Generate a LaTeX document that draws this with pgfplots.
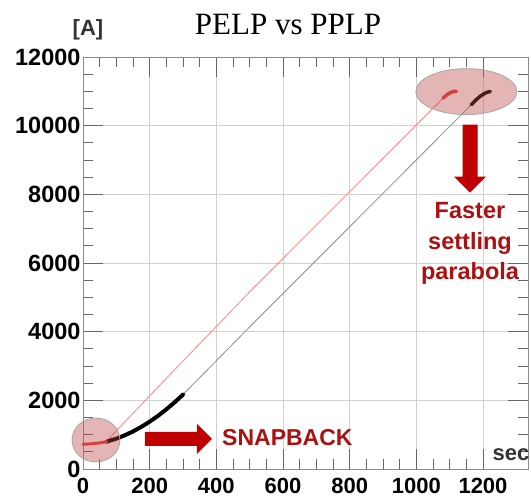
\documentclass[border=0pt]{standalone}
\usepackage{fontspec}
\setmainfont{Liberation Sans}
\newfontfamily\titlefont{Liberation Serif}
\usepackage{pgfplots}
\pgfplotsset{compat=1.18}
\definecolor{arrowred}{RGB}{192,0,0}
\definecolor{textred}{RGB}{172,16,16}
\definecolor{lightred}{RGB}{255,130,130}
\definecolor{thickred}{RGB}{235,60,60}
\definecolor{ellfill}{RGB}{185,70,70}
\definecolor{lgray}{RGB}{140,140,140}

\begin{document}
\begin{tikzpicture}[x=1pt,y=1pt]
\path[use as bounding box] (0,0) rectangle (531,500);
\begin{axis}[
  at={(83pt,31pt)}, anchor=south west,
  scale only axis, width=445pt, height=412pt,
  xmin=0, xmax=1335, ymin=0, ymax=12000,
  xtick={0,200,...,1200}, ytick={0,2000,...,12000},
  minor x tick num=3, minor y tick num=3,
  tick align=inside,
  major tick length=20pt, minor tick length=10pt,
  grid=major,
  major grid style={black!18, line width=0.6pt},
  axis line style={black!45, line width=0.8pt},
  every tick/.style={black!60, line width=0.8pt},
  xticklabel style={font=\fontsize{22}{24}\selectfont\bfseries, yshift=-6pt},
  yticklabel style={font=\fontsize{23.5}{25}\selectfont\bfseries, xshift=1pt},
  /pgf/number format/assume math mode=true,
  scaled ticks=false,
  /pgf/number format/set thousands separator={},
  clip=false,
]
% PELP (red)
\addplot[lightred, line width=0.8pt] coordinates {(71,800)(85,960)(231,2449)(501,5170)(1080,10800)};
% PPLP linear part (gray)
\addplot[lgray, line width=0.8pt] coordinates {(300,2168)(501,4149)(896,7988)(1165,10610)};
% PPLP snapback parabola (thick black)
\addplot[black, line width=4pt, line cap=round] coordinates {(71,796)(100,883)(125,980)(150,1094)(175,1227)(200,1379)(225,1548)(250,1737)(275,1943)(300,2168)};
% PELP start (thick red)
\addplot[thickred, line width=3pt, line cap=round] coordinates {(0,720)(25,735)(50,760)(71,796)};
% settling ends
\addplot[thickred, line width=3.5pt, line cap=round] coordinates {(1080,10800)(1092,10900)(1102,10965)(1112,10995)(1120,11000)};
\addplot[black, line width=3.5pt, line cap=round] coordinates {(1165,10610)(1180,10760)(1192,10860)(1205,10940)(1213,10975)(1222,10995)};
% highlight ellipses
\fill[ellfill, opacity=0.4] (axis cs:39,845) ellipse [x radius=24pt, y radius=22pt];
\draw[black!35, line width=0.8pt] (axis cs:39,845) ellipse [x radius=24pt, y radius=22pt];
\fill[ellfill, opacity=0.4] (axis cs:1150,10991) ellipse [x radius=50.5pt, y radius=23pt];
\draw[black!35, line width=0.8pt] (axis cs:1150,10991) ellipse [x radius=50.5pt, y radius=23pt];
% arrows
\fill[arrowred] (axis cs:186,671) -- (axis cs:342,671) -- (axis cs:342,438) -- (axis cs:387,875) -- (axis cs:342,1312) -- (axis cs:342,1079) -- (axis cs:186,1079) -- cycle;
\fill[arrowred] (axis cs:1138.5,10029) -- (axis cs:1183.5,10029) -- (axis cs:1183.5,8513) -- (axis cs:1209,8513) -- (axis cs:1161,8047) -- (axis cs:1113,8513) -- (axis cs:1138.5,8513) -- cycle;
% annotations
\node[anchor=west, inner sep=0pt, text=textred, font=\fontsize{23}{26}\selectfont\bfseries] at (axis cs:417,904) {SNAPBACK};
\node[align=center, inner sep=0pt, text=textred, font=\fontsize{23.5}{30.5}\selectfont\bfseries] at (axis cs:1161,6560) {Faster\\settling\\parabola};
\end{axis}
\node[anchor=base, font=\titlefont\fontsize{31}{34}\selectfont] at (288,465) {PELP vs PPLP};
\node[font=\fontsize{22}{24}\selectfont\bfseries, text=black!80] at (88,470) {[A]};
\node[font=\fontsize{22}{24}\selectfont\bfseries, text=black!80] at (511,45) {sec};
\end{tikzpicture}
\end{document}
